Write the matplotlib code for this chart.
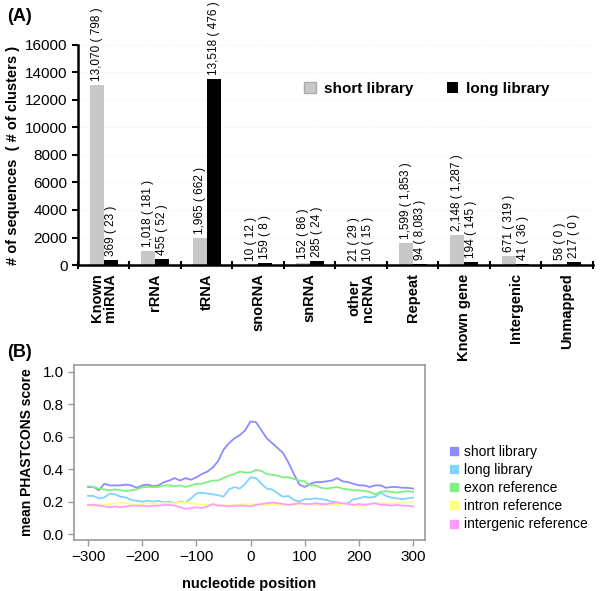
import numpy as np
import matplotlib
matplotlib.use('Agg')
import matplotlib.pyplot as plt
from matplotlib.patches import Patch
from matplotlib.lines import Line2D

# panel A data
categories = ['Known\nmiRNA', 'rRNA', 'tRNA', 'snoRNA', 'snRNA', 'other\nncRNA',
              'Repeat', 'Known gene', 'Intergenic', 'Unmapped']
short_seqs = [13070, 1018, 1965, 10, 152, 21, 1599, 2148, 671, 58]
long_seqs = [369, 455, 13518, 159, 285, 10, 94, 194, 41, 217]
short_labels = ['13,070 ( 798 )', '1,018 ( 181 )', '1,965 ( 662 )', '10 ( 12 )', '152 ( 86 )',
                '21 ( 29 )', '1,599 ( 1,853 )', '2,148 ( 1,287 )', '671 ( 319 )', '58 ( 0 )']
long_labels = ['369 ( 23 )', '455 ( 52 )', '13,518 ( 476 )', '159 ( 8 )', '285 ( 24 )',
               '10 ( 15 )', '94 ( 8,083 )', '194 ( 145 )', '41 ( 36 )', '217 ( 0 )']

# panel B data (read every 10 nt)
pos = list(range(-300, 301, 10))
short_lib = [0.289, 0.29, 0.27, 0.31, 0.30, 0.30, 0.30, 0.305, 0.30, 0.285,
             0.30, 0.305, 0.295, 0.30, 0.32, 0.33, 0.345, 0.33, 0.345, 0.335,
             0.35, 0.37, 0.385, 0.41, 0.45, 0.52, 0.56, 0.59, 0.61, 0.64,
             0.695, 0.69, 0.64, 0.59, 0.56, 0.53, 0.50, 0.44, 0.37, 0.305,
             0.29, 0.31, 0.32, 0.32, 0.325, 0.33, 0.345, 0.325, 0.32, 0.31,
             0.30, 0.30, 0.29, 0.30, 0.30, 0.285, 0.29, 0.29, 0.285, 0.285, 0.28]
long_lib = [0.235, 0.235, 0.22, 0.225, 0.25, 0.245, 0.23, 0.225, 0.21, 0.205,
            0.20, 0.205, 0.20, 0.205, 0.195, 0.20, 0.19, 0.20, 0.195, 0.22,
            0.25, 0.255, 0.25, 0.245, 0.24, 0.23, 0.275, 0.29, 0.28, 0.31,
            0.35, 0.345, 0.31, 0.28, 0.275, 0.25, 0.23, 0.235, 0.21, 0.20,
            0.215, 0.215, 0.22, 0.215, 0.21, 0.20, 0.195, 0.185, 0.19, 0.215,
            0.22, 0.23, 0.225, 0.23, 0.255, 0.235, 0.225, 0.22, 0.215, 0.22, 0.225]
exon_ref = [0.295, 0.29, 0.28, 0.275, 0.27, 0.275, 0.27, 0.265, 0.27, 0.275,
            0.29, 0.29, 0.29, 0.29, 0.30, 0.30, 0.295, 0.30, 0.29, 0.30,
            0.31, 0.31, 0.32, 0.33, 0.33, 0.345, 0.36, 0.37, 0.385, 0.38,
            0.38, 0.395, 0.39, 0.37, 0.365, 0.36, 0.35, 0.35, 0.34, 0.33,
            0.325, 0.30, 0.30, 0.285, 0.28, 0.285, 0.29, 0.28, 0.275, 0.27,
            0.27, 0.265, 0.26, 0.245, 0.26, 0.265, 0.26, 0.255, 0.26, 0.265, 0.26]
intron_ref = [0.175, 0.175, 0.18, 0.18, 0.185, 0.19, 0.195, 0.19, 0.185, 0.18,
              0.185, 0.19, 0.19, 0.185, 0.19, 0.19, 0.19, 0.195, 0.195, 0.19,
              0.185, 0.18, 0.18, 0.18, 0.18, 0.175, 0.175, 0.18, 0.18, 0.185,
              0.185, 0.18, 0.175, 0.18, 0.185, 0.18, 0.18, 0.18, 0.18, 0.185,
              0.185, 0.18, 0.18, 0.18, 0.18, 0.18, 0.18, 0.185, 0.185, 0.18,
              0.17, 0.18, 0.185, 0.19, 0.19, 0.19, 0.19, 0.19, 0.19, 0.195, 0.195]
intergenic_ref = [0.18, 0.18, 0.175, 0.17, 0.165, 0.17, 0.165, 0.17, 0.175, 0.175,
                  0.175, 0.17, 0.175, 0.175, 0.18, 0.18, 0.175, 0.165, 0.155, 0.16,
                  0.165, 0.16, 0.17, 0.185, 0.175, 0.175, 0.17, 0.175, 0.175, 0.175,
                  0.17, 0.18, 0.185, 0.19, 0.195, 0.19, 0.185, 0.18, 0.185, 0.19,
                  0.185, 0.185, 0.19, 0.185, 0.185, 0.19, 0.195, 0.19, 0.185, 0.18,
                  0.185, 0.18, 0.185, 0.19, 0.18, 0.18, 0.175, 0.18, 0.175, 0.175, 0.17]

series_names = ['short library', 'long library', 'exon reference', 'intron reference',
                'intergenic reference']
series_colors = ['#8c8cff', '#80d4ff', '#80f080', '#ffff80', '#ff9cff']

plt.rcParams['font.family'] = ['Liberation Sans', 'DejaVu Sans']

fig = plt.figure(figsize=(6.0, 5.91), dpi=100)

# ---------- panel A ----------
ax = fig.add_axes([0.13, 0.5516, 0.858, 0.3723])
x = np.arange(len(categories))
w = 0.27
ax.bar(x - w / 2, short_seqs, w, color='#c8c8c8', label='short library', zorder=2)
ax.bar(x + w / 2, long_seqs, w, color='black', label='long library', zorder=2)
for i in range(len(categories)):
    ax.annotate(short_labels[i], (x[i] - w / 2, short_seqs[i]), xytext=(0, 3),
                textcoords='offset points', rotation=90, ha='center', va='bottom',
                fontsize=8.5)
    ax.annotate(long_labels[i], (x[i] + w / 2, long_seqs[i]), xytext=(0, 3),
                textcoords='offset points', rotation=90, ha='center', va='bottom',
                fontsize=8.5)
ax.set_xlim(-0.5, len(categories) - 0.5)
ax.set_ylim(0, 16000)
ax.set_yticks(range(0, 16001, 2000))
ax.tick_params(axis='y', labelsize=11, length=4, width=1.5)
ax.yaxis.grid(True, color='#eeeeee', linestyle=':', linewidth=0.8, zorder=0)
ax.set_xticks(np.arange(len(categories) + 1) - 0.5, minor=False)
ax.set_xticklabels([''] * (len(categories) + 1))
ax.tick_params(axis='x', direction='inout', length=6, width=1.5)
ax.set_xticks(x, minor=True)
ax.set_xticklabels(categories, minor=True, rotation=90, fontweight='bold', fontsize=10.5,
                   va='top', ha='center', linespacing=0.95)
ax.tick_params(axis='x', which='minor', length=0, pad=6)
for s in ['top', 'right']:
    ax.spines[s].set_visible(False)
for s in ['left', 'bottom']:
    ax.spines[s].set_linewidth(1.8)
ax.set_ylabel('# of sequences  ( # of clusters )', fontweight='bold', fontsize=10.5,
              labelpad=4)
ax.legend(handles=[Patch(facecolor='#c8c8c8', edgecolor='#aaaaaa', label='short library'),
                   Patch(facecolor='black', label='long library')],
          ncol=2, frameon=False, loc='center left', bbox_to_anchor=(0.425, 0.80),
          prop={'weight': 'bold', 'size': 11}, handlelength=0.75, handleheight=0.75,
          handletextpad=0.5, columnspacing=2.2, borderpad=0)
fig.text(0.012, 0.972, '(A)', fontsize=13, fontweight='bold', va='center')

# ---------- panel B ----------
bx = fig.add_axes([0.1233, 0.0863, 0.5850, 0.2961])
for ys, c, n in zip([short_lib, long_lib, exon_ref, intron_ref, intergenic_ref],
                    series_colors, series_names):
    bx.plot(pos, ys, color=c, linewidth=1.3, label=n)
bx.set_xlim(-326, 322)
bx.set_ylim(-0.037, 1.043)
bx.set_xticks(range(-300, 301, 100))
bx.set_xticklabels(['\u2212300', '\u2212200', '\u2212100', '0', '100', '200', '300'])
bx.set_yticks([0.0, 0.2, 0.4, 0.6, 0.8, 1.0])
bx.set_yticklabels(['0.0', '0.2', '0.4', '0.6', '0.8', '1.0'])
bx.tick_params(color='#999999', length=4, width=1, labelsize=11)
for s in bx.spines.values():
    s.set_color('#999999')
    s.set_linewidth(1.2)
bx.set_xlabel('nucleotide position', fontweight='bold', fontsize=10.5, labelpad=9)
bx.set_ylabel('mean PHASTCONS score', fontweight='bold', fontsize=10, labelpad=6)
handles = [Line2D([], [], marker='s', linestyle='none', markersize=6, color=c,
                  label=n) for c, n in zip(series_colors, series_names)]
fig.legend(handles=handles, loc='center left', bbox_to_anchor=(0.738, 0.174),
           frameon=False, prop={'size': 10}, handlelength=0.6,
           handletextpad=0.4, labelspacing=0.3, borderpad=0)
fig.text(0.012, 0.404, '(B)', fontsize=13, fontweight='bold', va='center')

fig.savefig('out.png', dpi=100)
